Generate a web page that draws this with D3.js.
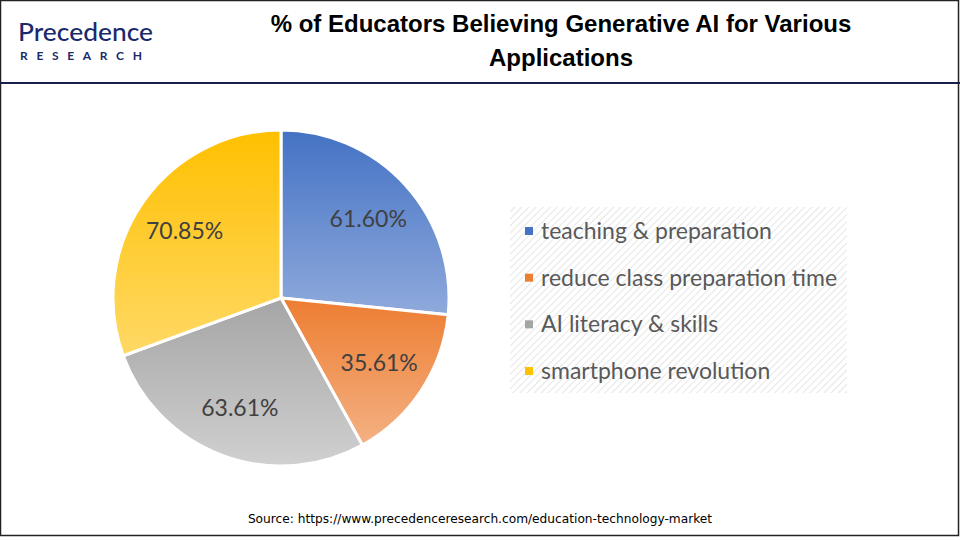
<!DOCTYPE html>
<html><head><meta charset="utf-8">
<script src="https://cdn.jsdelivr.net/npm/d3@7"></script>
<style>body{margin:0;background:#fff}svg{display:block}</style>
</head><body>
<svg id="c" width="960" height="540"></svg>
<script>
const categories = ["teaching & preparation","reduce class preparation time","AI literacy & skills","smartphone revolution"];
const values = [61.60, 35.61, 63.61, 70.85];
const labels = ["61.60%","35.61%","63.61%","70.85%"];
const colorsTop = ["#4472C4","#ED7D31","#A5A5A5","#FFC000"];
const colorsBottom = ["#8FAADC","#F4B183","#D0D0D0","#FFD966"];

const svg = d3.select("#c");
const defs = svg.append("defs");
// frame
svg.append("rect").attr("x",0.5).attr("y",0.5).attr("width",958).attr("height",535).attr("fill","none").attr("stroke","#222").attr("stroke-width",1.5);
svg.append("line").attr("x1",0).attr("x2",960).attr("y1",83).attr("y2",83).attr("stroke","#1a1f4a").attr("stroke-width",2);

// logo
const logo = svg.append("g");
logo.append("text").attr("x",18).attr("y",41).attr("font-family","Lato, sans-serif").attr("font-size",25).attr("fill","#1b2a6b").attr("font-weight",500)
  .text("Precedence").attr("textLength",135).attr("lengthAdjust","spacingAndGlyphs");
logo.append("text").attr("x",20).attr("y",60).attr("font-family","Lato, sans-serif").attr("font-size",12).attr("font-weight",700).attr("fill","#1b2a6b")
  .text("RESEARCH").attr("textLength",130).attr("letter-spacing",8);

// title
const title = svg.append("g").attr("font-family","'Liberation Sans Narrow', 'Liberation Sans', sans-serif").attr("font-weight",700).attr("font-size",24).attr("fill","#000").attr("text-anchor","middle");
title.append("text").attr("x",561).attr("y",32).text("% of Educators Believing Generative AI for Various");
title.append("text").attr("x",561).attr("y",66).text("Applications");

// pie
const cx = 281, cy = 298, r = 168;
const pie = d3.pie().sort(null).value(d=>d)(values);
const arc = d3.arc().innerRadius(0).outerRadius(r);
values.forEach((v,i)=>{
  const g = defs.append("linearGradient").attr("id","g"+i).attr("x1",0).attr("y1",0).attr("x2",0).attr("y2",1);
  g.append("stop").attr("offset","0%").attr("stop-color",colorsTop[i]);
  g.append("stop").attr("offset","100%").attr("stop-color",colorsBottom[i]);
});
const pg = svg.append("g").attr("transform",`translate(${cx},${cy})`);
pg.selectAll("path").data(pie).join("path").attr("d",arc).attr("fill",(d,i)=>`url(#g${i})`).attr("stroke","#fff").attr("stroke-width",3).attr("stroke-linejoin","round");
const lab = d3.arc().innerRadius(r*0.70).outerRadius(r*0.70);
pg.selectAll("text").data(pie).join("text")
  .attr("transform",d=>`translate(${lab.centroid(d)})`)
  .attr("text-anchor","middle").attr("dy","0.35em")
  .attr("font-family","Lato, 'Open Sans', sans-serif").attr("font-size",23).attr("fill","#404040")
  .text((d,i)=>labels[i]);

// legend
const pat = defs.append("pattern").attr("id","hatch").attr("patternUnits","userSpaceOnUse").attr("width",5).attr("height",5).attr("patternTransform","rotate(45)");
pat.append("rect").attr("width",5).attr("height",5).attr("fill","#fff");
pat.append("line").attr("x1",0).attr("y1",0).attr("x2",0).attr("y2",5).attr("stroke","#e6e6e6").attr("stroke-width",2);
svg.append("rect").attr("x",510).attr("y",207).attr("width",337).attr("height",186).attr("fill","url(#hatch)");
const y = d3.scalePoint().domain(categories).range([231,371]);
const lg = svg.append("g");
const items = lg.selectAll("g").data(categories).join("g").attr("transform",d=>`translate(0,${y(d)})`);
items.append("rect").attr("x",525).attr("y",-4).attr("width",8).attr("height",8).attr("fill",(d,i)=>colorsTop[i]);
items.append("text").attr("x",541).attr("dy","0.35em").attr("font-family","Lato, sans-serif").attr("font-size",23).attr("fill","#595959").text(d=>d);

// source
svg.append("text").attr("x",480).attr("y",523).attr("text-anchor","middle").attr("font-family","'DejaVu Sans', sans-serif").attr("font-size",12.2).attr("fill","#000")
  .text("Source: https://www.precedenceresearch.com/education-technology-market");
</script>
</body></html>
